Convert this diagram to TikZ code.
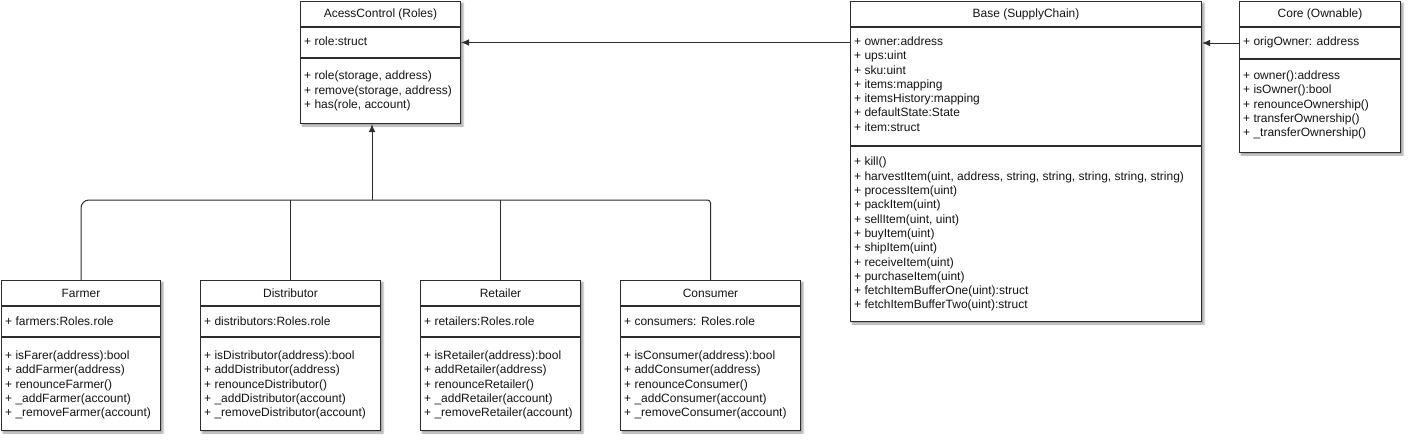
\documentclass[tikz,border=0pt]{standalone}
\usepackage{fontspec}
\setmainfont{Liberation Sans}
\usetikzlibrary{arrows.meta, positioning, backgrounds, shadows, shadows.blur}
\definecolor{umlline}{RGB}{45,45,45}
\definecolor{umltext}{RGB}{20,20,20}
\newcommand{\umlfont}{\fontsize{12}{14.3}\selectfont}
\tikzset{
    umlshadow/.style={blur shadow={shadow xshift=2pt, shadow yshift=-2pt, shadow blur radius=1.5pt, shadow opacity=35}},
    umlhead/.style={draw=umlline, line width=1pt, fill=white, rectangle, inner sep=0pt, minimum height=25pt, text=umltext, font=\umlfont},
    umlpart/.style={draw=umlline, line width=1pt, fill=white, rectangle, inner sep=0pt},
    members/.style={inner sep=0pt, align=left, text=umltext, font=\umlfont, execute at begin node=\strut},
    inherit/.style={draw=umlline, line width=1pt, -{Latex[length=8pt, width=6.5pt]}},
    wire/.style={draw=umlline, line width=1pt}
}
\begin{document}
\begin{tikzpicture}[x=1pt, y=-1pt]
    \useasboundingbox (0,0) rectangle (1411,445);
    % AcessControl (Roles)
    \node[umlhead, anchor=north west, minimum width=160pt] (acH) at (300,1) {AcessControl (Roles)};
    \node[umlpart, minimum width=160pt, minimum height=30pt, below=0pt of acH] (acA) {};
    \node[umlpart, minimum width=160pt, minimum height=65pt, below=0pt of acA] (acM) {};
    \node[members, below right=8.5pt and 4pt of acA.north west] (acAtxt) {+ role:struct};
    \node[members, below right=13pt and 4pt of acM.north west] (acMtxt) {+ role(storage, address)\\+ remove(storage, address)\\+ has(role, account)};
    % Base (SupplyChain)
    \node[umlhead, anchor=north west, minimum width=351pt] (baseH) at (850,1) {Base (SupplyChain)};
    \node[umlpart, minimum width=351pt, minimum height=118pt, below=0pt of baseH] (baseA) {};
    \node[umlpart, minimum width=351pt, minimum height=175pt, below=0pt of baseA] (baseM) {};
    \node[members, below right=9.5pt and 4pt of baseA.north west] (baseAtxt) {+ owner:address\\+ ups:uint\\+ sku:uint\\+ items:mapping\\+ itemsHistory:mapping\\+ defaultState:State\\+ item:struct};
    \node[members, below right=11pt and 4pt of baseM.north west] (baseMtxt) {+ kill()\\+ harvestItem(uint, address, string, string, string, string, string)\\+ processItem(uint)\\+ packItem(uint)\\+ sellItem(uint, uint)\\+ buyItem(uint)\\+ shipItem(uint)\\+ receiveItem(uint)\\+ purchaseItem(uint)\\+ fetchItemBufferOne(uint):struct\\+ fetchItemBufferTwo(uint):struct};
    % Core (Ownable)
    \node[umlhead, anchor=north west, minimum width=161pt] (coreH) at (1239,1) {Core (Ownable)};
    \node[umlpart, minimum width=161pt, minimum height=31pt, below=0pt of coreH] (coreA) {};
    \node[umlpart, minimum width=161pt, minimum height=93pt, below=0pt of coreA] (coreM) {};
    \node[members, below right=8.5pt and 4pt of coreA.north west] (coreAtxt) {+ origOwner: address};
    \node[members, below right=11.5pt and 4pt of coreM.north west] (coreMtxt) {+ owner():address\\+ isOwner():bool\\+ renounceOwnership()\\+ transferOwnership()\\+ \_transferOwnership()};
    % Farmer
    \node[umlhead, anchor=north west, minimum width=159pt] (farmerH) at (1,280) {Farmer};
    \node[umlpart, minimum width=159pt, minimum height=30pt, below=0pt of farmerH] (farmerA) {};
    \node[umlpart, minimum width=159pt, minimum height=93pt, below=0pt of farmerA] (farmerM) {};
    \node[members, below right=9pt and 4pt of farmerA.north west] (farmerAtxt) {+ farmers:Roles.role};
    \node[members, below right=13.5pt and 4pt of farmerM.north west] (farmerMtxt) {+ isFarer(address):bool\\+ addFarmer(address)\\+ renounceFarmer()\\+ \_addFarmer(account)\\+ \_removeFarmer(account)};
    % Distributor
    \node[umlhead, anchor=north west, minimum width=180pt] (distH) at (200,280) {Distributor};
    \node[umlpart, minimum width=180pt, minimum height=30pt, below=0pt of distH] (distA) {};
    \node[umlpart, minimum width=180pt, minimum height=93pt, below=0pt of distA] (distM) {};
    \node[members, below right=9pt and 4pt of distA.north west] (distAtxt) {+ distributors:Roles.role};
    \node[members, below right=13.5pt and 4pt of distM.north west] (distMtxt) {+ isDistributor(address):bool\\+ addDistributor(address)\\+ renounceDistributor()\\+ \_addDistributor(account)\\+ \_removeDistributor(account)};
    % Retailer
    \node[umlhead, anchor=north west, minimum width=160pt] (retH) at (420,280) {Retailer};
    \node[umlpart, minimum width=160pt, minimum height=30pt, below=0pt of retH] (retA) {};
    \node[umlpart, minimum width=160pt, minimum height=93pt, below=0pt of retA] (retM) {};
    \node[members, below right=9pt and 4pt of retA.north west] (retAtxt) {+ retailers:Roles.role};
    \node[members, below right=13.5pt and 4pt of retM.north west] (retMtxt) {+ isRetailer(address):bool\\+ addRetailer(address)\\+ renounceRetailer()\\+ \_addRetailer(account)\\+ \_removeRetailer(account)};
    % Consumer
    \node[umlhead, anchor=north west, minimum width=180pt] (consH) at (620,280) {Consumer};
    \node[umlpart, minimum width=180pt, minimum height=30pt, below=0pt of consH] (consA) {};
    \node[umlpart, minimum width=180pt, minimum height=93pt, below=0pt of consA] (consM) {};
    \node[members, below right=9pt and 4pt of consA.north west] (consAtxt) {+ consumers: Roles.role};
    \node[members, below right=13.5pt and 4pt of consM.north west] (consMtxt) {+ isConsumer(address):bool\\+ addConsumer(address)\\+ renounceConsumer()\\+ \_addConsumer(account)\\+ \_removeConsumer(account)};
    % soft shadows behind each class
    \begin{scope}[on background layer]
        \foreach \c in {ac, base, core, farmer, dist, ret, cons}
            \path[umlshadow] (\c H.north west) rectangle (\c M.south east);
    \end{scope}
    % inheritance
    \draw[inherit] (baseA.west |- acA.east) -- (acA.east);
    \draw[inherit] (coreA.west) -- (coreA.west -| baseA.east);
    \coordinate (join) at (372,200);
    \draw[wire, rounded corners=8pt] (farmerH.north) |- (join);
    \draw[wire] (distH.north) -- (distH.north |- join);
    \draw[wire] (retH.north) -- (retH.north |- join);
    \draw[wire, rounded corners=3pt] (consH.north) |- (join);
    \draw[inherit] (join) -- (join |- acM.south);
\end{tikzpicture}
\end{document}
